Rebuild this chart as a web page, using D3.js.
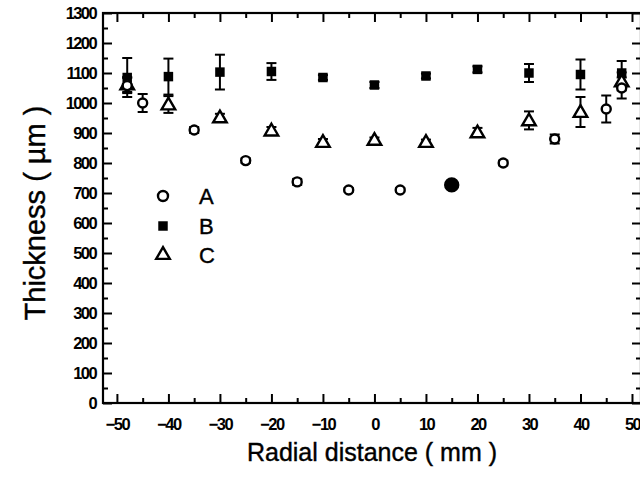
<!DOCTYPE html>
<html><head><meta charset="utf-8">
<script src="https://cdn.jsdelivr.net/npm/d3@7"></script>
<style>
html,body{margin:0;padding:0;background:#fff;overflow:hidden;}
svg{display:block;}
text{font-family:"Liberation Sans",Arial,sans-serif;fill:#000;}
</style></head>
<body>
<script>
// ---- data ----
const xTicks = [-50,-40,-30,-20,-10,0,10,20,30,40,50];
const yTicks = [0,100,200,300,400,500,600,700,800,900,1000,1100,1200,1300];

const aX   = [-48, -45, -35, -25, -15, -5, 5, 15, 25, 35, 45, 48];
const aY   = [1058, 1000, 910, 808, 737, 710, 710, 727, 800, 880, 980, 1050];
const aErr = [25, 30, 10, 8, 10, 6, 6, 8, 8, 15, 45, 35];

const bX   = [-48, -40, -30, -20, -10, 0, 10, 20, 30, 40, 48];
const bY   = [1085, 1088, 1103, 1105, 1085, 1060, 1090, 1112, 1100, 1095, 1100];
const bErr = [65, 60, 58, 28, 8, 10, 8, 10, 30, 50, 40];

const cX   = [-48, -40, -30, -20, -10, 0, 10, 20, 30, 40, 48];
const cY   = [1062, 995, 952, 908, 870, 877, 870, 902, 942, 970, 1072];
const cErr = [25, 28, 12, 12, 10, 8, 8, 15, 30, 50, 30];

const legendLabels = ["A","B","C"];

// ---- layout ----
const W = 640, H = 479;
const L = 103, R = 641, T = 13, B = 403;
const svg = d3.select("body").append("svg").attr("width", W).attr("height", H);

const x = d3.scaleLinear().domain([-52.7, 51.75]).range([L, R]);
const y = d3.scaleLinear().domain([0, 1300]).range([B, T]);

const xMinor = d3.range(-50, 51, 5).filter(v => v % 10 !== 0);
const yMinor = d3.range(50, 1300, 100);

function styleAxis(g){
  g.select(".domain").remove();
  g.selectAll("line").attr("stroke","#000").attr("stroke-width",2);
}
function styleText(g){
  g.selectAll("text").attr("font-size",16.5).attr("font-weight","bold")
   .attr("letter-spacing","-1.6px").attr("fill","#111");
}
// bottom axis (inward ticks)
const gx = svg.append("g").attr("transform",`translate(0,${B})`)
  .call(d3.axisBottom(x).tickValues(xTicks).tickSize(-9).tickPadding(15).tickFormat(d3.format("d")));
styleAxis(gx); styleText(gx);
svg.append("g").attr("transform",`translate(0,${B})`)
  .call(d3.axisBottom(x).tickValues(xMinor).tickSize(-5).tickFormat("")).call(styleAxis);
// top axis
svg.append("g").attr("transform",`translate(0,${T})`)
  .call(d3.axisTop(x).tickValues(xTicks).tickSize(-9).tickFormat("")).call(styleAxis);
svg.append("g").attr("transform",`translate(0,${T})`)
  .call(d3.axisTop(x).tickValues(xMinor).tickSize(-5).tickFormat("")).call(styleAxis);
// left axis
const gy = svg.append("g").attr("transform",`translate(${L},0)`)
  .call(d3.axisLeft(y).tickValues(yTicks).tickSize(-9).tickPadding(7).tickFormat(d3.format("d")));
styleAxis(gy); styleText(gy);
svg.append("g").attr("transform",`translate(${L},0)`)
  .call(d3.axisLeft(y).tickValues(yMinor).tickSize(-5).tickFormat("")).call(styleAxis);
// right axis
svg.append("g").attr("transform",`translate(${R},0)`)
  .call(d3.axisRight(y).tickValues(yTicks).tickSize(-9).tickFormat("")).call(styleAxis);
svg.append("g").attr("transform",`translate(${R},0)`)
  .call(d3.axisRight(y).tickValues(yMinor).tickSize(-5).tickFormat("")).call(styleAxis);

// frame
svg.append("rect").attr("x",L).attr("y",T).attr("width",R-L).attr("height",B-T)
  .attr("fill","none").attr("stroke","#000").attr("stroke-width",2.2);

// error bars
function errorBars(xs, ys, es){
  const g = svg.append("g").attr("stroke","#000").attr("stroke-width",2);
  xs.forEach((xv,i)=>{
    const cx = x(xv), y1 = y(ys[i]+es[i]), y2 = y(ys[i]-es[i]);
    g.append("line").attr("x1",cx).attr("x2",cx).attr("y1",y1).attr("y2",y2);
    g.append("line").attr("x1",cx-5).attr("x2",cx+5).attr("y1",y1).attr("y2",y1);
    g.append("line").attr("x1",cx-5).attr("x2",cx+5).attr("y1",y2).attr("y2",y2);
  });
}
errorBars(bX,bY,bErr);
errorBars(cX,cY,cErr);
errorBars(aX,aY,aErr);

const sq = d3.symbol().type(d3.symbolSquare).size(90);
const tri = d3.symbol().type(d3.symbolTriangle).size(80);

// B squares
svg.append("g").selectAll("path").data(bX).join("path")
  .attr("d", sq).attr("transform",(d,i)=>`translate(${x(d)},${y(bY[i])})`)
  .attr("fill","#000");
// C triangles
svg.append("g").selectAll("path").data(cX).join("path")
  .attr("d", tri).attr("transform",(d,i)=>`translate(${x(d)},${y(cY[i])+1})`)
  .attr("fill","#fff").attr("stroke","#000").attr("stroke-width",2.4);
// A circles
svg.append("g").selectAll("circle").data(aX).join("circle")
  .attr("cx", d=>x(d)).attr("cy",(d,i)=>y(aY[i])).attr("r",d=>d===15?6.5:4.5)
  .attr("fill",d=>d===15?"#000":"#fff").attr("stroke","#000").attr("stroke-width",2.4);

// legend
const lg = svg.append("g");
const lgY = [196, 226, 255];
lg.append("circle").attr("cx",163).attr("cy",lgY[0]).attr("r",5).attr("fill","#fff").attr("stroke","#000").attr("stroke-width",2.4);
lg.append("path").attr("d",sq).attr("transform",`translate(163,${lgY[1]})`).attr("fill","#000");
lg.append("path").attr("d",tri).attr("transform",`translate(163,${lgY[2]})`).attr("fill","#fff").attr("stroke","#000").attr("stroke-width",2.4);
legendLabels.forEach((t,i)=>{
  lg.append("text").attr("x",199).attr("y",lgY[i]+8).attr("font-size",22)
    .attr("stroke","#000").attr("stroke-width",0.4).text(t);
});

// axis titles
svg.append("text").attr("x",372).attr("y",461).attr("text-anchor","middle")
  .attr("font-size",25).attr("stroke","#000").attr("stroke-width",0.4).text("Radial distance ( mm )");
svg.append("text").attr("transform","translate(45,213) rotate(-90)").attr("text-anchor","middle")
  .attr("font-size",29).attr("stroke","#000").attr("stroke-width",0.4).text("Thickness ( µm )");
</script>
</body></html>
